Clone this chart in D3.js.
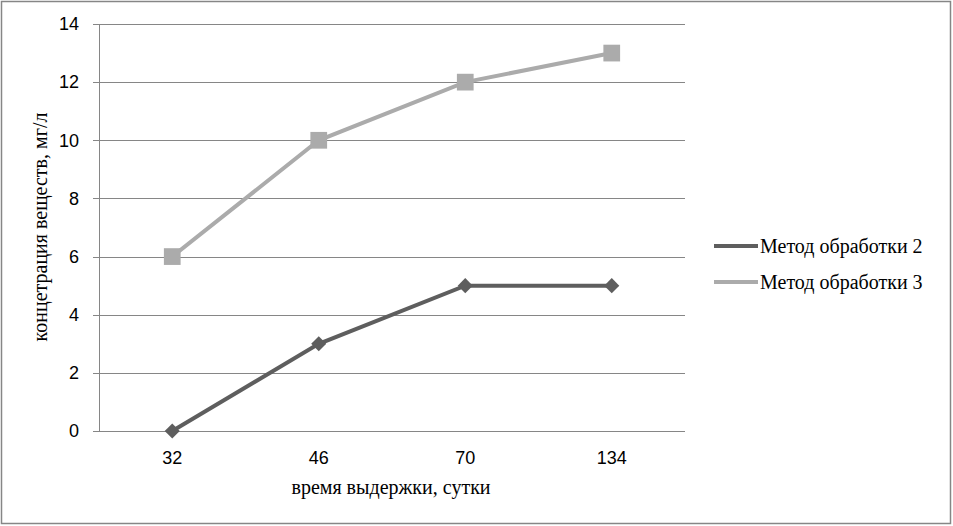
<!DOCTYPE html>
<html><head><meta charset="utf-8">
<script src="https://cdn.jsdelivr.net/npm/d3@7"></script>
<style>body{margin:0;background:#fff}</style>
</head><body>
<svg id="c" width="953" height="526"></svg>
<script>
const categories = ["32", "46", "70", "134"];
const series2 = [0, 3, 5, 5];
const series3 = [6, 10, 12, 13];
const seriesNames = ["Метод обработки 2", "Метод обработки 3"];
const yTicks = [0, 2, 4, 6, 8, 10, 12, 14];

const svg = d3.select("#c");
svg.append("rect").attr("x", 1.5).attr("y", 1.5).attr("width", 949).attr("height", 522)
  .attr("fill", "#fff").attr("stroke", "#868686").attr("stroke-width", 1.5);

const L = 99, R = 685, T = 24, B = 431;
const x = d3.scaleBand().domain(categories).range([L, R]);
const y = d3.scaleLinear().domain([0, 14]).range([B, T]);

// gridlines
svg.append("g").selectAll("line").data(yTicks).join("line")
  .attr("x1", L - 6).attr("x2", R)
  .attr("y1", d => Math.round(y(d)) + 0.5).attr("y2", d => Math.round(y(d)) + 0.5)
  .attr("stroke", "#868686").attr("stroke-width", 1);
// y axis line
svg.append("line").attr("x1", L + 0.5).attr("x2", L + 0.5).attr("y1", T).attr("y2", B)
  .attr("stroke", "#868686");
// y labels
svg.append("g").selectAll("text").data(yTicks).join("text")
  .attr("x", 79).attr("y", d => y(d)).attr("dy", "0.35em")
  .attr("text-anchor", "end").attr("font-family", "Liberation Sans, Arial").attr("font-size", 18)
  .attr("fill", "#000").text(d => d);
// x labels
svg.append("g").selectAll("text").data(categories).join("text")
  .attr("x", d => x(d) + x.bandwidth() / 2).attr("y", 464)
  .attr("text-anchor", "middle").attr("font-family", "Liberation Sans, Arial").attr("font-size", 18)
  .attr("fill", "#000").text(d => d);
// axis titles
svg.append("text").attr("x", 391).attr("y", 494).attr("text-anchor", "middle")
  .attr("font-family", "Liberation Serif, Times New Roman").attr("font-size", 20).text("время выдержки, сутки");
svg.append("text").attr("transform", "translate(47,227) rotate(-90)").attr("text-anchor", "middle")
  .attr("font-family", "Liberation Serif, Times New Roman").attr("font-size", 20).text("концетрация веществ, мг/л");

const cx = d => x(d) + x.bandwidth() / 2;
const line = d3.line().x((d, i) => cx(categories[i])).y(d => y(d));
const c2 = "#5e5e5e", c3 = "#ababab";

svg.append("path").datum(series3).attr("d", line).attr("fill", "none").attr("stroke", c3).attr("stroke-width", 4);
svg.append("path").datum(series2).attr("d", line).attr("fill", "none").attr("stroke", c2).attr("stroke-width", 4);

const sq = d3.symbol().type(d3.symbolSquare).size(280);
const dm = d3.symbol().type(d3.symbolDiamond2).size(145);
svg.append("g").selectAll("path").data(series3).join("path")
  .attr("transform", (d, i) => `translate(${cx(categories[i])},${y(d)})`).attr("d", sq).attr("fill", c3);
svg.append("g").selectAll("path").data(series2).join("path")
  .attr("transform", (d, i) => `translate(${cx(categories[i])},${y(d)})`).attr("d", dm).attr("fill", c2);

// legend
const leg = [{n: seriesNames[0], c: c2, s: d3.symbol().type(d3.symbolDiamond2).size(90), y: 246}, {n: seriesNames[1], c: c3, s: d3.symbol().type(d3.symbolSquare).size(170), y: 282}];
const lg = svg.append("g").selectAll("g").data(leg).join("g");
lg.append("line").attr("x1", 714).attr("x2", 758).attr("y1", d => d.y).attr("y2", d => d.y)
  .attr("stroke", d => d.c).attr("stroke-width", 4);
lg.append("path").attr("transform", d => `translate(736,${d.y})`).attr("d", d => d.s).attr("fill", d => d.c);
lg.append("text").attr("x", 760).attr("y", d => d.y).attr("dy", "0.35em")
  .attr("font-family", "Liberation Serif, Times New Roman").attr("font-size", 20).text(d => d.n);
</script>
</body></html>
